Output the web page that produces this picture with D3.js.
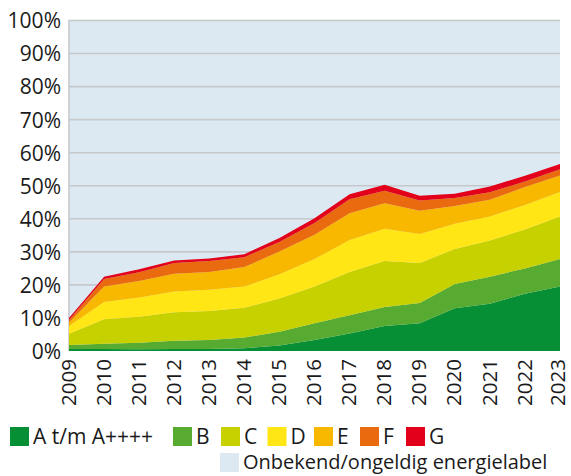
<!DOCTYPE html>
<html>
<head>
<meta charset="utf-8">
<script src="https://cdn.jsdelivr.net/npm/d3@7"></script>
<style>
  html, body { margin: 0; padding: 0; background: #ffffff; }
  svg { display: block; }
  text { font-family: "Open Sans", "Noto Sans", sans-serif; fill: #1a1a1a; }
</style>
</head>
<body>
<svg id="chart" width="571" height="476"></svg>
<script>
// ---- data ----
const years = [2009, 2010, 2011, 2012, 2013, 2014, 2015, 2016, 2017, 2018, 2019, 2020, 2021, 2022, 2023];
const seriesNames = ["A t/m A++++", "B", "C", "D", "E", "F", "G"];
const labelA = [0.6, 0.6, 0.5, 0.6, 0.6, 0.8, 1.7, 3.3, 5.3, 7.6, 8.4, 12.9, 14.3, 17.3, 19.5];
const labelB = [1.2, 1.6, 2.0, 2.5, 2.7, 3.3, 4.1, 5.1, 5.5, 5.7, 6.1, 7.4, 8.2, 7.7, 8.3];
const labelC = [3.4, 7.4, 7.9, 8.6, 8.8, 9.0, 10.1, 11.1, 13.1, 13.9, 12.1, 10.6, 10.9, 11.8, 12.9];
const labelD = [2.4, 5.2, 5.8, 6.3, 6.4, 6.4, 7.3, 8.3, 9.7, 9.8, 8.8, 7.6, 7.3, 7.4, 7.4];
const labelE = [1.0, 4.7, 5.0, 5.4, 5.4, 5.9, 6.9, 7.4, 8.1, 7.7, 7.0, 5.4, 5.1, 5.4, 5.0];
const labelF = [0.8, 2.3, 2.6, 3.2, 3.3, 3.0, 2.9, 3.5, 4.2, 3.8, 3.1, 2.4, 2.2, 1.7, 1.9];
const labelG = [0.6, 0.7, 0.9, 0.8, 0.8, 0.9, 1.2, 1.5, 1.5, 1.8, 1.5, 1.3, 1.8, 1.7, 1.6];
const unknownName = "Onbekend/ongeldig energielabel";
const yTicks = [0, 10, 20, 30, 40, 50, 60, 70, 80, 90, 100];

// ---- style ----
const colors = ["#078f36", "#58ab31", "#c8d100", "#ffe614", "#f9b800", "#ea6a0f", "#e2001a"];
const unknownColor = "#dce9f2";
const gridColor = "#c6c9cc";

const seriesValues = [labelA, labelB, labelC, labelD, labelE, labelF, labelG];
const rows = years.map((yr, i) => {
  const r = { year: yr };
  seriesNames.forEach((n, k) => { r[n] = seriesValues[k][i]; });
  return r;
});

const svg = d3.select("#chart");
const plot = { left: 69, right: 560, top: 20.5, bottom: 351 };

const x = d3.scaleLinear().domain([years[0], years[years.length - 1]]).range([plot.left, plot.right]);
const y = d3.scaleLinear().domain([0, 100]).range([plot.bottom, plot.top]);

// background = unknown share
svg.append("rect")
  .attr("x", plot.left).attr("y", y(100))
  .attr("width", plot.right - plot.left).attr("height", y(0) - y(100))
  .attr("fill", unknownColor);

// gridlines
svg.append("g").selectAll("line")
  .data(yTicks.filter(t => t > 0))
  .join("line")
  .attr("x1", plot.left).attr("x2", plot.right)
  .attr("y1", d => y(d)).attr("y2", d => y(d))
  .attr("stroke", gridColor).attr("stroke-width", 1.6);

// left border
svg.append("line")
  .attr("x1", plot.left).attr("x2", plot.left)
  .attr("y1", y(100) - 0.8).attr("y2", y(0))
  .attr("stroke", gridColor).attr("stroke-width", 1.6);

// stacked areas
const stack = d3.stack().keys(seriesNames);
const stacked = stack(rows);
const area = d3.area()
  .x(d => x(d.data.year))
  .y0(d => y(d[0]))
  .y1(d => y(d[1]));

svg.append("g").selectAll("path")
  .data(stacked)
  .join("path")
  .attr("d", area)
  .attr("fill", (d, i) => colors[i]);

// y axis labels
const yAxis = d3.axisLeft(y).tickValues(yTicks).tickSize(0).tickPadding(8).tickFormat(d => d + "%");
const gy = svg.append("g").attr("transform", `translate(${plot.left},0)`).call(yAxis);
gy.select(".domain").remove();
gy.selectAll("text")
  .style("font-family", '"Open Sans", "Noto Sans", sans-serif')
  .style("font-size", "21px")
  .attr("fill", "#1a1a1a")
  .attr("dy", "0.35em");

// x axis labels (rotated)
const xAxis = d3.axisBottom(x).tickValues(years).tickSize(0).tickFormat(d3.format("d"));
const gx = svg.append("g").attr("transform", `translate(0,${plot.bottom})`).call(xAxis);
gx.select(".domain").remove();
gx.selectAll("text")
  .style("font-family", '"Open Sans", "Noto Sans", sans-serif')
  .style("font-size", "20.5px")
  .attr("fill", "#1a1a1a")
  .attr("text-anchor", "end")
  .attr("transform", "rotate(-90)")
  .attr("x", -8)
  .attr("y", 0)
  .attr("dy", (d, i) => (i === years.length - 1 ? "0.2em" : "0.3em"));

// legend
const legendX = [10, 173, 221, 267.5, 314, 360, 406];
const sq = 19;
const leg = svg.append("g");
seriesNames.forEach((n, i) => {
  const g = leg.append("g").attr("transform", `translate(${legendX[i]},427)`);
  g.append("rect").attr("width", sq).attr("height", sq).attr("fill", colors[i]);
  g.append("text").attr("x", sq + 4).attr("y", sq / 2).attr("dy", "0.36em")
    .style("font-size", "21px").text(n);
});
const gu = leg.append("g").attr("transform", `translate(220,453)`);
gu.append("rect").attr("width", sq).attr("height", sq).attr("fill", unknownColor);
gu.append("text").attr("x", sq + 4).attr("y", sq / 2).attr("dy", "0.34em")
  .style("font-size", "20px").text(unknownName);
</script>
</body>
</html>
